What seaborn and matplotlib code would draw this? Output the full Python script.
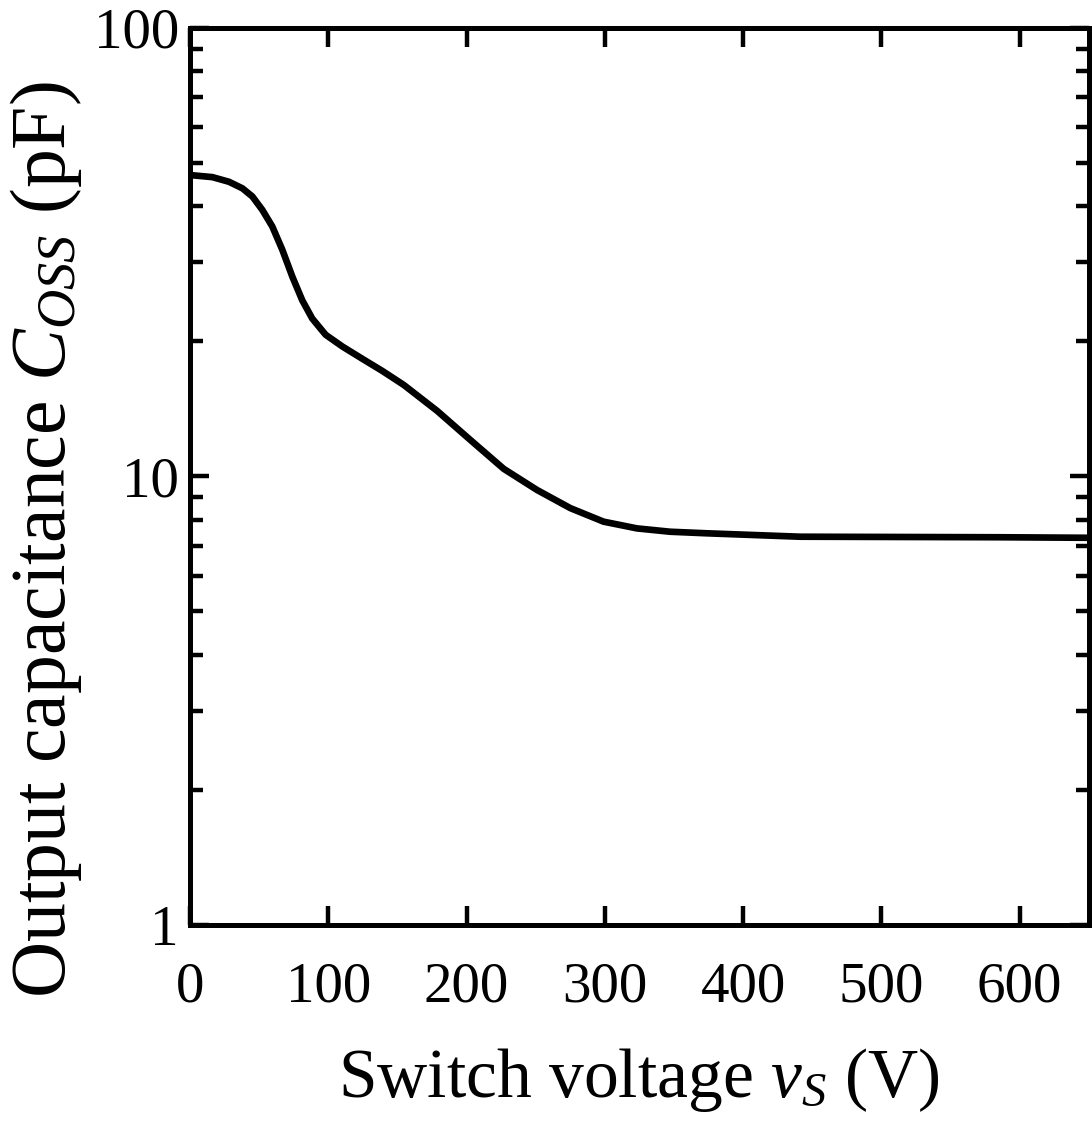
import numpy as np
import pandas as pd
import seaborn as sns
import matplotlib
matplotlib.use("Agg")
import matplotlib.pyplot as plt
from matplotlib.ticker import FixedLocator, LogLocator, FuncFormatter, NullFormatter

# Data
voltage = [0, 16.2, 28.2, 37.9, 45.1, 52.3, 59.5, 66.8, 74.0, 81.2, 88.4, 98.1,
           110.1, 124.6, 139.0, 154.6, 178.8, 202.8, 226.9, 251.0, 275.1, 299.1,
           323.3, 347.3, 373.8, 441.2, 585.7, 650]
coss = [47.0, 46.5, 45.4, 43.9, 42.1, 39.3, 36.1, 32.0, 27.9, 24.7, 22.5, 20.7,
        19.5, 18.3, 17.2, 16.0, 14.0, 12.06, 10.4, 9.33, 8.50, 7.93,
        7.66, 7.53, 7.47, 7.34, 7.32, 7.30]
x_ticks = [0, 100, 200, 300, 400, 500, 600]
y_ticks = [1, 10, 100]

df = pd.DataFrame({"v": voltage, "c": coss})

sns.set_theme(style="ticks")
plt.rcParams["font.family"] = ["Liberation Serif", "DejaVu Serif"]
plt.rcParams["mathtext.fontset"] = "custom"
plt.rcParams["mathtext.rm"] = "Liberation Serif"
plt.rcParams["mathtext.it"] = "Liberation Serif:italic"
plt.rcParams["text.color"] = "black"
plt.rcParams["axes.labelcolor"] = "black"

fig = plt.figure(figsize=(10.92, 11.33), dpi=100)
ax = fig.add_axes([0.174, 0.1836, 0.823, 0.7917])

sns.lineplot(data=df, x="v", y="c", ax=ax, color="black", linewidth=4.8,
             sort=False, solid_joinstyle="round", solid_capstyle="butt")

ax.set_yscale("log")
ax.set_xlim(0, 650)
ax.set_ylim(1, 100)

ax.xaxis.set_major_locator(FixedLocator(x_ticks))
ax.yaxis.set_major_locator(FixedLocator(y_ticks))
ax.yaxis.set_minor_locator(LogLocator(base=10, subs=np.arange(2, 10)))
ax.yaxis.set_major_formatter(FuncFormatter(lambda v, p: f"{v:g}"))
ax.yaxis.set_minor_formatter(NullFormatter())

for s in ax.spines.values():
    s.set_linewidth(3.6)
    s.set_color("black")

ax.tick_params(axis="both", which="both", direction="in", top=True, right=True,
               colors="black", labelsize=41, width=3.2)
ax.tick_params(axis="both", which="major", length=14)
ax.tick_params(axis="y", which="minor", length=9.5)
ax.tick_params(axis="x", which="major", pad=26)
ax.tick_params(axis="y", which="major", pad=8)

ax.set_xlabel(r"Switch voltage $v_S$ (V)", fontsize=50, labelpad=24)
ax.set_ylabel(r"Output capacitance $C_{OSS}$ (pF)", fontsize=56)
ax.yaxis.set_label_coords(-0.118, 0.43)

fig.savefig("out.png", dpi=100, facecolor="white")
